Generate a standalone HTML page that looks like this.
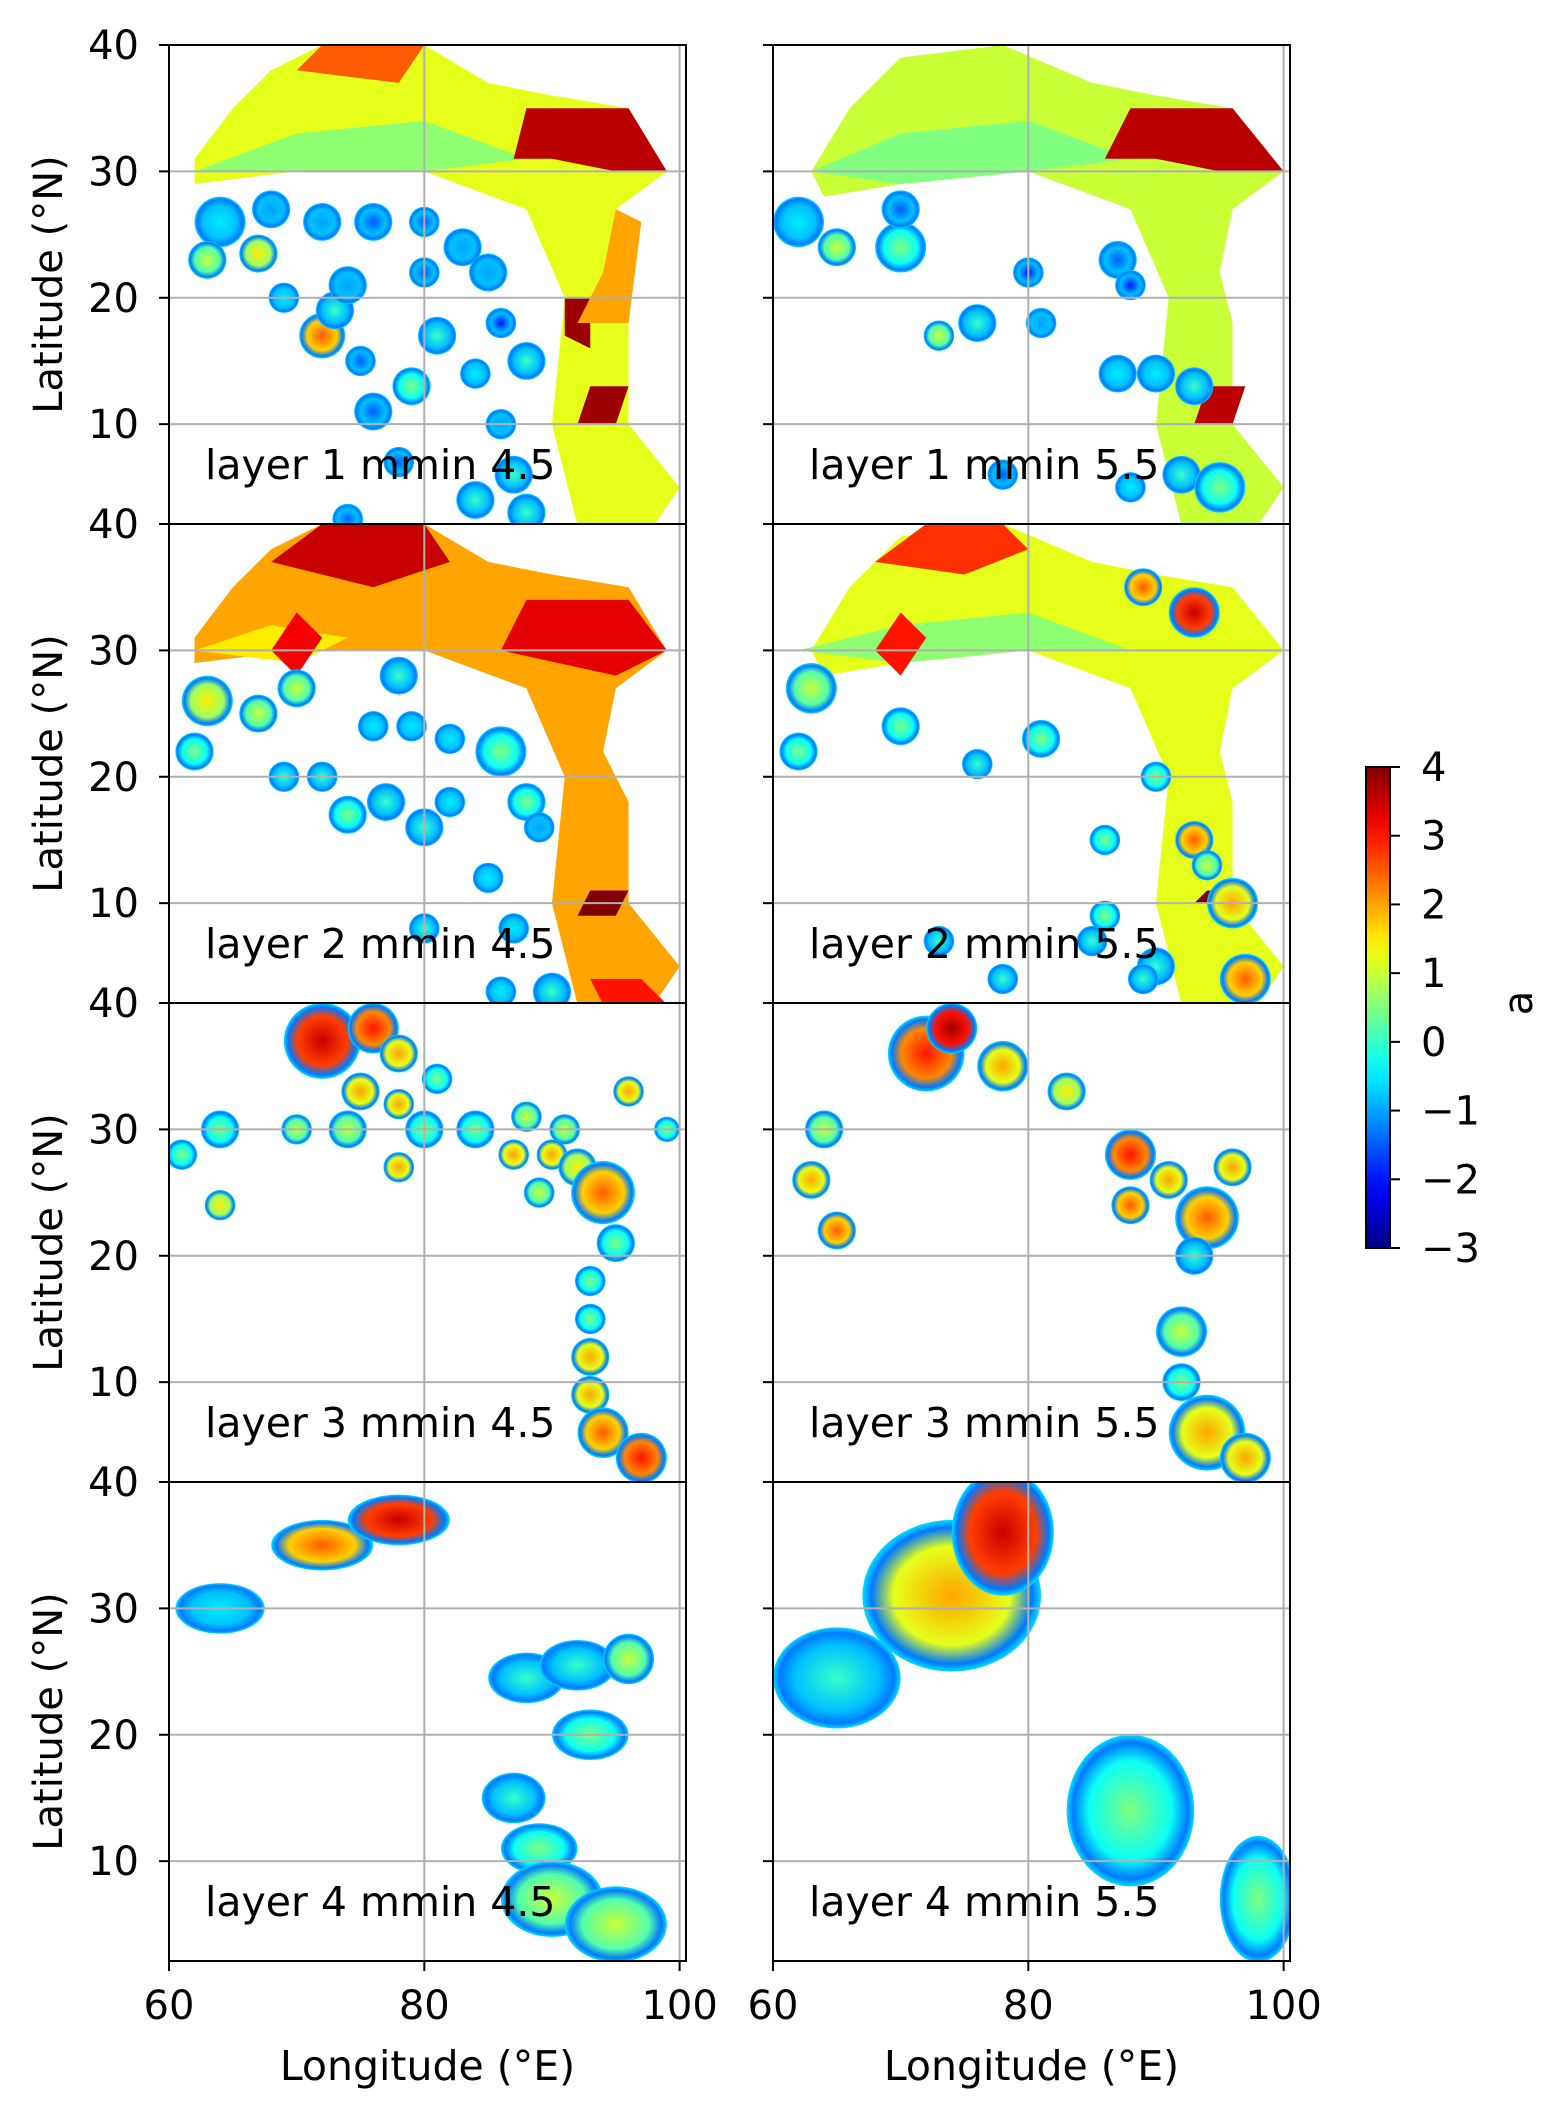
<!DOCTYPE html>
<html><head><meta charset="utf-8">
<style>
html,body{margin:0;padding:0;background:#fff;}
svg{display:block;font-family:"DejaVu Sans","Liberation Sans",sans-serif;}
</style></head>
<body>
<svg id="fig" width="1567" height="2126" viewBox="0 0 1567 2126" xmlns="http://www.w3.org/2000/svg">
<defs id="defs"></defs>
<g id="panels"></g>
<g id="cbar"></g>
</svg>
<script>
// ---- data ----
const lonTicks = [60, 80, 100];
const latTicks = [10, 20, 30, 40];
const cbarTicks = [-3, -2, -1, 0, 1, 2, 3, 4];
const panelLabels = ["layer 1 mmin 4.5","layer 1 mmin 5.5","layer 2 mmin 4.5","layer 2 mmin 5.5","layer 3 mmin 4.5","layer 3 mmin 5.5","layer 4 mmin 4.5","layer 4 mmin 5.5"];
const band1 = [[62,31],[65,35],[68,38],[72,40],[80,40],[85,37],[90,36],[96,35],[99,30],[95,27],[94,22],[96,18],[96,10],[100,5],[98,2],[92,2],[90,10],[91,20],[88,27],[80,30],[70,30],[62,29]];
const band1R = [[63,30],[66,35],[70,39],[78,40],[85,37],[90,36],[96,35],[100,30],[96,27],[95,22],[96,18],[96,10],[100,5],[98,2],[92,2],[90,10],[91,20],[88,27],[80,30],[70,29],[64,28]];
const polys = [
 [[band1,1.2],[[[62,30],[70,33],[80,34],[88,31],[80,30],[70,30]],0.6],[[[87,31],[88,35],[96,35],[99,30],[95,30],[90,31]],3.6],[[[91,17],[91,20],[93,20],[93,16]],3.8],[[[92,10],[93,13],[96,13],[95,10]],3.8],[[[70,38],[72,40],[80,40],[78,37]],2.5],[[[92,18],[94,22],[95,27],[97,26],[96,18]],2.0]],
 [[band1R,1.0],[[[63,30],[70,33],[80,34],[88,31],[80,30],[70,29]],0.5],[[[86,31],[88,35],[96,35],[100,30],[95,30],[90,31]],3.6],[[[93,10],[94,13],[97,13],[96,10]],3.6]],
 [[band1,2.0],[[[62,30],[68,32],[74,31],[70,29]],1.5],[[[68,37],[72,40],[80,40],[82,37],[76,35]],3.5],[[[86,30],[88,34],[96,34],[99,30],[95,28]],3.3],[[[68,30],[70,33],[72,31],[70,28]],3.2],[[[92,9],[93,11],[96,11],[95,9]],4.0],[[[93,4],[97,4],[99,2],[94,2]],3.0]],
 [[band1R,1.2],[[[62,30],[70,32],[80,33],[88,30],[80,30],[70,29]],0.6],[[[68,37],[72,40],[78,40],[80,38],[75,36]],2.8],[[[68,30],[70,33],[72,31],[70,28]],3.0],[[[93,10],[94,11],[97,11],[96,10]],4.0]],
 [],[],[],[]
];
// blobs: [lon, lat, rx(deg), ry(deg), value]
const blobs = [
 [[64,26,2,2,-0.5],[63,23,1.5,1.5,1],[67,23.5,1.5,1.5,1.5],[69,20,1.2,1.2,-0.5],[72,17,1.8,1.8,2.5],[73,19,1.5,1.5,0],[75,15,1.2,1.2,-1.5],[76,11,1.5,1.5,-1.5],[78,7,1.2,1.2,-1.5],[74,2.5,1.2,1.2,-1.5],[76,26,1.5,1.5,-1.5],[72,26,1.5,1.5,-1],[80,26,1.2,1.2,-1.5],[80,22,1.2,1.2,-1.5],[83,24,1.5,1.5,-1],[85,22,1.5,1.5,-1],[86,18,1.2,1.2,-2],[81,17,1.5,1.5,0],[79,13,1.5,1.5,0.5],[84,14,1.2,1.2,-0.5],[88,15,1.5,1.5,0],[86,10,1.2,1.2,-1],[87,6,1.5,1.5,0],[84,4,1.5,1.5,0],[88,3,1.5,1.5,0],[74,21,1.5,1.5,-1],[68,27,1.5,1.5,-1]],
 [[62,26,2,2,-0.5],[65,24,1.5,1.5,1],[70,24,2,2,0.5],[70,27,1.5,1.5,-1.5],[80,22,1.2,1.2,-2],[76,18,1.5,1.5,0],[73,17,1.2,1.2,1],[81,18,1.2,1.2,-1],[78,6,1.2,1.2,-1.5],[87,14,1.5,1.5,-0.5],[90,14,1.5,1.5,-0.5],[93,13,1.5,1.5,0],[92,6,1.5,1.5,0],[95,5,2,2,0.5],[88,5,1.2,1.2,-0.5],[87,23,1.5,1.5,-1.5],[88,21,1.2,1.2,-2]],
 [[63,26,2,2,1.5],[62,22,1.5,1.5,0.5],[67,25,1.5,1.5,1],[70,27,1.5,1.5,1],[69,20,1.2,1.2,0],[72,20,1.2,1.2,0],[74,17,1.5,1.5,0.5],[77,18,1.5,1.5,0],[80,16,1.5,1.5,0],[82,18,1.2,1.2,-0.5],[76,24,1.2,1.2,-0.5],[79,24,1.2,1.2,-0.5],[82,23,1.2,1.2,-0.5],[86,22,2,2,0.5],[88,18,1.5,1.5,0.5],[85,12,1.2,1.2,-0.5],[87,8,1.2,1.2,-0.5],[80,8,1.2,1.2,0],[86,3,1.2,1.2,-0.5],[90,3,1.5,1.5,0],[89,16,1.2,1.2,-1],[78,28,1.5,1.5,0]],
 [[62,22,1.5,1.5,0.5],[63,27,2,2,1],[70,24,1.5,1.5,0.5],[76,21,1.2,1.2,0],[81,23,1.5,1.5,0.5],[86,15,1.2,1.2,0.5],[86,9,1.2,1.2,0.5],[85,7,1.2,1.2,0],[90,5,1.5,1.5,0],[89,4,1.2,1.2,0],[73,7,1.2,1.2,0],[78,4,1.2,1.2,0],[93,15,1.5,1.5,2.5],[94,13,1.2,1.2,1],[90,20,1.2,1.2,0.5],[96,10,2,2,2],[97,4,2,2,2.5],[93,33,2,2,3.5],[89,35,1.5,1.5,2.5]],
 [[72,37,3,3,3.5],[76,38,2,2,3],[78,36,1.5,1.5,2],[81,34,1.2,1.2,0.5],[75,33,1.5,1.5,2],[78,32,1.2,1.2,2],[64,30,1.5,1.5,0.5],[61,28,1.2,1.2,0.5],[64,24,1.2,1.2,1.5],[70,30,1.2,1.2,1],[74,30,1.5,1.5,1],[78,27,1.2,1.2,2],[80,30,1.5,1.5,0.5],[84,30,1.5,1.5,0.5],[88,31,1.2,1.2,1],[91,30,1.2,1.2,1],[87,28,1.2,1.2,2],[90,28,1.2,1.2,2],[92,27,1.5,1.5,1.5],[94,25,2.5,2.5,2.5],[95,21,1.5,1.5,0.5],[93,18,1.2,1.2,0.5],[93,15,1.2,1.2,0.5],[93,12,1.5,1.5,2],[93,9,1.5,1.5,2],[94,6,2,2,2.5],[97,4,2,2,3],[96,33,1.2,1.2,2],[99,30,1,1,0.5],[89,25,1.2,1.2,1]],
 [[72,36,3,3,3],[74,38,2,2,3.8],[78,35,2,2,2],[83,33,1.5,1.5,1.5],[64,30,1.5,1.5,1],[63,26,1.5,1.5,2],[65,22,1.5,1.5,2.5],[88,28,2,2,3],[88,24,1.5,1.5,2.5],[91,26,1.5,1.5,2],[94,23,2.5,2.5,2.5],[96,27,1.5,1.5,2],[93,20,1.5,1.5,0],[92,14,2,2,1],[92,10,1.5,1.5,0.5],[94,6,3,3,2],[97,4,2,2,2]],
 [[72,35,4,2,2.5],[78,37,4,2,3.5],[64,30,3.5,2,-0.5],[88,24.5,3,2,0],[92,25.5,3,2,0],[96,26,2,2,1],[93,20,3,2,0.5],[87,15,2.5,2,0],[89,11,3,2,0.5],[90,7,4,3,1],[95,5,4,3,1]],
 [[74,31,7,6,2],[78,36,4,5,3.5],[65,24.5,5,4,0],[88,14,5,6,0.5],[98,7,3,5,0.5]]
];
// ---- layout ----
const colX = [169, 773], rowY = [45, 524, 1003, 1482], PW = 517, PH = 479;
const lonMin = 60, lonMax = 100.5, latMin = 2.1, latMax = 40;
const vmin = -3, vmax = 4;
const FS = 40;
const NS = "http://www.w3.org/2000/svg";
function el(tag, attrs, parent){const e=document.createElementNS(NS,tag);for(const k in attrs)e.setAttribute(k,attrs[k]);if(parent)parent.appendChild(e);return e;}
function jet(v){let t=(v-vmin)/(vmax-vmin);t=Math.max(0,Math.min(1,t));
 const r=Math.max(0,Math.min(1,1.5-Math.abs(4*t-3))),g=Math.max(0,Math.min(1,1.5-Math.abs(4*t-2))),b=Math.max(0,Math.min(1,1.5-Math.abs(4*t-1)));
 return `rgb(${Math.round(r*255)},${Math.round(g*255)},${Math.round(b*255)})`;}
const defs=document.getElementById('defs'), root=document.getElementById('panels');
let gid=0;
for(let i=0;i<8;i++){
 const r=Math.floor(i/2), c=i%2, x0=colX[c], y0=rowY[r];
 const X=lon=>x0+(lon-lonMin)/(lonMax-lonMin)*PW;
 const Y=lat=>y0+(latMax-lat)/(latMax-latMin)*PH;
 const cp=el('clipPath',{id:'cp'+i},defs); el('rect',{x:x0,y:y0,width:PW,height:PH},cp);
 const g=el('g',{'clip-path':`url(#cp${i})`},root);
 
 
 for(const [pts,v] of polys[i]){
  const p=el('polygon',{points:pts.map(q=>X(q[0])+','+Y(q[1])).join(' '),fill:jet(v)},g);
  
  
 }
 for(const [lo,la,rx,ry,v] of blobs[i]){
  const id='rg'+(gid++);
  const rg=el('radialGradient',{id:id},defs);
  el('stop',{offset:'0','stop-color':jet(v)},rg);
  el('stop',{offset:'0.65','stop-color':jet(Math.max(v-0.8,-0.8))},rg);
  el('stop',{offset:'0.9','stop-color':jet(-1.3)},rg);
  el('stop',{offset:'1','stop-color':jet(-0.6)},rg);
  const e=el('ellipse',{cx:X(lo),cy:Y(la),rx:rx*PW/(lonMax-lonMin),ry:ry*PH/(latMax-latMin),fill:`url(#${id})`},g);
  
  
 }
 for(const lo of lonTicks){const l=el('line',{x1:X(lo),x2:X(lo),y1:y0,y2:y0+PH,stroke:'#b0b0b0','stroke-width':2},root);
  
  }
 for(const la of latTicks){if(la>=latMax)continue;const l=el('line',{x1:x0,x2:x0+PW,y1:Y(la),y2:Y(la),stroke:'#b0b0b0','stroke-width':2},root);
  
  }
 const fr=el('rect',{x:x0,y:y0,width:PW,height:PH,fill:'none',stroke:'#000','stroke-width':2},root);
 
 
 for(const la of latTicks){
  el('line',{x1:x0-10,x2:x0,y1:Y(la),y2:Y(la),stroke:'#000','stroke-width':2},root);
  if(c===0){const t=el('text',{x:x0-30,y:Y(la)+14,'text-anchor':'end','font-size':FS},root);t.textContent=la;
   
   }
 }
 if(c===0){const yl=el('text',{x:0,y:0,transform:`translate(62,${y0+PH/2}) rotate(-90)`,'text-anchor':'middle','font-size':FS},root);yl.textContent='Latitude (°N)';
  
  }
 const pl=el('text',{x:x0+36,y:y0+PH-45,'font-size':FS+1},root);pl.textContent=panelLabels[i];
 
 
 if(r===3){
  for(const lo of lonTicks){el('line',{x1:X(lo),x2:X(lo),y1:y0+PH,y2:y0+PH+10,stroke:'#000','stroke-width':2},root);
   const t=el('text',{x:X(lo),y:y0+PH+58,'text-anchor':'middle','font-size':FS},root);t.textContent=lo;
   
   }
  const xl=el('text',{x:x0+PW/2,y:2080,'text-anchor':'middle','font-size':FS+1},root);xl.textContent='Longitude (°E)';
  
  
 }
}
// colorbar
const cb=document.getElementById('cbar');
const cx0=1366,cw=24,cy0=767,ch=481;
const lg=el('linearGradient',{id:'jetg',x1:0,y1:1,x2:0,y2:0},defs);
for(let k=0;k<=20;k++){el('stop',{offset:k/20,'stop-color':jet(vmin+(vmax-vmin)*k/20)},lg);}
el('rect',{x:cx0,y:cy0,width:cw,height:ch,fill:'url(#jetg)',stroke:'#000','stroke-width':2},cb);
for(const v of cbarTicks){const yy=cy0+ch-(v-vmin)/(vmax-vmin)*ch;
 el('line',{x1:cx0+cw,x2:cx0+cw+10,y1:yy,y2:yy,stroke:'#000','stroke-width':2},cb);
 const t=el('text',{x:1421,y:yy+14,'font-size':FS},cb);t.textContent=(v<0?'\u2212'+(-v):v);
 
 }
const al=el('text',{x:0,y:0,transform:'translate(1532,1003) rotate(-90)','text-anchor':'middle','font-size':FS},cb);al.textContent='a';


</script>
</body></html>
